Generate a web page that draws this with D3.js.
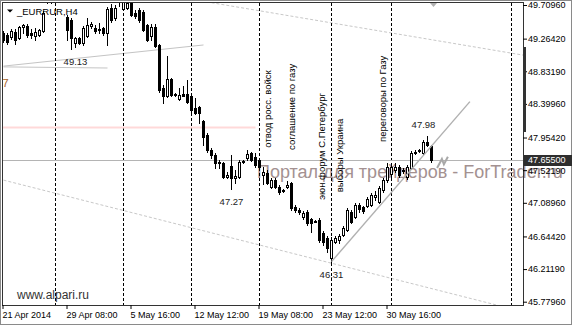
<!DOCTYPE html>
<html><head><meta charset="utf-8">
<script src="https://cdn.jsdelivr.net/npm/d3@7/dist/d3.min.js"></script>
<style>
html,body{margin:0;padding:0;background:#fff;}
svg{display:block;}
</style></head><body>
<script>
// ---- data (EURRUR, H4) ----
const opens  = [49.34,49.31,49.29,49.35,49.27,49.42,49.43,49.34,49.30,49.31,49.37,49.78,49.86,49.80,49.84,49.88,49.55,49.51,49.21,49.27,
49.21,49.30,49.43,49.41,49.39,49.41,49.34,49.67,49.54,49.75,49.66,49.67,49.74,49.60,49.64,49.62,49.45,49.30,49.42,49.18,
48.61,48.50,48.73,48.53,48.46,48.53,48.53,48.50,48.35,48.36,48.17,47.99,47.79,47.72,47.63,47.62,47.43,47.58,47.42,47.43,
47.63,47.68,47.75,47.70,47.66,47.46,47.48,47.30,47.39,47.30,47.26,47.30,47.35,47.03,46.99,46.90,46.97,46.88,46.85,46.86,
46.69,46.62,46.36,46.57,46.60,46.66,46.73,46.97,46.90,47.06,47.03,47.05,47.06,47.17,47.10,47.26,47.39,47.47,47.52,47.56,
47.52,47.43,47.55,47.75,47.78,47.75,47.90,47.84];
const highs  = [49.37,49.34,49.39,49.39,49.43,49.46,49.46,49.39,49.41,49.39,49.63,49.92,49.95,49.90,49.96,49.92,49.58,49.54,49.29,49.29,
49.43,49.54,49.49,49.45,49.47,49.42,49.68,49.72,49.71,49.88,49.80,49.75,49.75,49.64,49.67,49.64,49.46,49.46,49.46,49.19,
48.65,49.03,48.74,48.54,48.61,48.64,48.72,48.52,48.48,48.37,48.19,48.01,47.82,47.75,47.66,47.63,47.50,47.72,47.53,47.66,
47.66,47.79,47.76,47.75,47.68,47.56,47.52,47.42,47.42,47.33,47.27,47.38,47.37,47.06,47.02,46.98,46.99,46.89,46.86,46.89,
46.72,46.65,46.64,46.65,46.68,46.78,47.02,46.99,47.09,47.09,47.05,47.17,47.22,47.25,47.31,47.42,47.62,47.62,47.62,47.59,
47.55,47.59,47.78,47.79,47.80,47.92,47.98,47.86];
const lows   = [49.22,49.19,49.26,49.19,49.26,49.34,49.29,49.27,49.25,49.30,49.35,49.74,49.73,49.74,49.78,49.75,49.25,49.13,49.15,49.19,
49.18,49.29,49.41,49.34,49.34,49.31,49.18,49.49,49.51,49.70,49.64,49.66,49.56,49.54,49.49,49.37,49.23,49.25,49.15,48.56,
48.41,48.49,48.50,48.51,48.45,48.50,48.41,48.29,48.27,48.15,47.86,47.76,47.68,47.55,47.55,47.42,47.42,47.27,47.35,47.42,
47.62,47.66,47.64,47.56,47.52,47.34,47.34,47.29,47.29,47.21,47.23,47.29,46.99,46.97,46.94,46.88,46.80,46.70,46.84,46.57,
46.53,46.44,46.31,46.56,46.56,46.65,46.72,46.82,46.89,46.97,46.95,47.03,47.05,47.13,47.09,47.23,47.37,47.42,47.50,47.43,
47.48,47.40,47.54,47.74,47.76,47.74,47.84,47.63];
const closes = [49.25,49.22,49.37,49.25,49.42,49.45,49.31,49.31,49.35,49.38,49.60,49.86,49.80,49.84,49.88,49.77,49.38,49.27,49.27,49.21,
49.41,49.45,49.46,49.37,49.38,49.34,49.66,49.51,49.67,49.82,49.76,49.74,49.58,49.56,49.51,49.38,49.25,49.42,49.17,48.58,
48.50,48.73,48.52,48.52,48.52,48.51,48.43,48.32,48.28,48.28,47.96,47.79,47.72,47.62,47.62,47.43,47.46,47.42,47.44,47.63,
47.64,47.74,47.66,47.59,47.56,47.50,47.35,47.39,47.30,47.23,47.25,47.33,47.02,46.99,46.97,46.95,46.82,46.82,46.84,46.60,
46.57,46.49,46.60,46.62,46.65,46.76,46.99,46.84,47.06,47.01,46.98,47.14,47.19,47.19,47.29,47.39,47.56,47.56,47.56,47.46,
47.51,47.56,47.75,47.76,47.79,47.90,47.86,47.655];

const xTickBars   = [0,16,32,48,64,80,96];
const xTickLabels = ["21 Apr 2014","29 Apr 08:00","5 May 16:00","12 May 12:00","19 May 08:00","23 May 12:00","30 May 16:00"];
const yTickValues = [49.7096,49.2642,48.8319,48.3996,47.9542,47.5219,47.0896,46.6442,46.2119,45.7796];

const separatorBars = [13,30,47,64,82,97,127];
const eventTexts  = ["отвод росс. войск","соглашение по газу","эюн форум С.Петербург","выборы Украина","переговоры по Газу"];
const eventBars   = [66.9,72.75,80.4,84.9,95.6];
const eventPrices = [47.82,47.79,47.13,47.23,47.895];

const extremeBars   = [18,57,82,105];
const extremePrices = [49.13,47.27,46.31,47.98];
const extremeKinds  = ["low","low","low","high"];

const bidPrice   = 47.655;
const pinkLevel  = 48.09;
const pinkEndBar = 63;
const channelTop    = [[52,49.74],[130,49.045]];
const channelBottom = [[0,47.39],[130,45.645]];
const flatLine      = [[0,48.89],[26,48.875]];
const risingLine    = [[0,48.90],[50,49.18]];
const upTrend       = [[82,46.31],[116.6,48.43]];
const checkMark     = [[108.4,47.55],[109.6,47.67],[110.1,47.60],[111.1,47.70]];
const rangeBar      = [48.03,49.15];
const shiftMarkBar  = 107.5;

// ---- chart ----
const W = 572, H = 325;
const FONT = "'Liberation Sans', Arial, sans-serif";
const svg = d3.select("body").append("svg").attr("width", W).attr("height", H)
  .style("font-family", FONT);

const x = d3.scaleLinear().domain([-0.125, 129.875]).range([3, 523]);
const y = d3.scaleLinear().domain([45.7796, 49.7096]).range([301.7, 5]);
const px = i => Math.floor(x(i)) + 0.5;
const py = v => Math.round(y(v));

svg.append("rect").attr("width", W).attr("height", H).attr("fill", "#fff");

const defs = svg.append("defs");
defs.append("clipPath").attr("id", "clip").append("rect")
  .attr("x", 3).attr("y", 3).attr("width", 520).attr("height", 302);

// watermark
svg.append("text").attr("x", 257).attr("y", 178)
  .attr("font-size", 18).attr("fill", "#a39191")
  .text("Портал для трейдеров - ForTrader.ru");

const g = svg.append("g").attr("clip-path", "url(#clip)");
const line = d3.line().x(d => x(d[0])).y(d => y(d[1]));

// dashed channel rays
[channelTop, channelBottom].forEach(l => {
  g.append("path").attr("d", line(l)).attr("fill", "none")
    .attr("stroke", "#c8c8c8").attr("stroke-width", 1).attr("stroke-dasharray", "3,2");
});

// solid light lines
[flatLine, risingLine].forEach(l => {
  g.append("path").attr("d", line(l)).attr("fill", "none")
    .attr("stroke", "#c4c4c4").attr("stroke-width", 1);
});

// separators
g.selectAll(".sep").data(separatorBars).join("line")
  .attr("x1", d => Math.floor(x(d)) + 0.5).attr("x2", d => Math.floor(x(d)) + 0.5)
  .attr("y1", 3).attr("y2", 305)
  .attr("stroke", "#000").attr("stroke-width", 1).attr("stroke-dasharray", "3,2");

// pink level
g.append("line").attr("x1", 3).attr("x2", x(pinkEndBar))
  .attr("y1", py(pinkLevel) + 0.5).attr("y2", py(pinkLevel) + 0.5)
  .attr("stroke", "#ffd9d9").attr("stroke-width", 2);

// bid line
g.append("line").attr("x1", 3).attr("x2", 523)
  .attr("y1", py(bidPrice) + 0.5).attr("y2", py(bidPrice) + 0.5)
  .attr("stroke", "#b4b4b4").attr("stroke-width", 1);

// candles
const bars = d3.range(opens.length);
g.selectAll(".wick").data(bars).join("line")
  .attr("x1", px).attr("x2", px)
  .attr("y1", i => py(highs[i])).attr("y2", i => py(lows[i]) + 1)
  .attr("stroke", "#000").attr("stroke-width", 1);
bars.forEach(i => {
  const bull = closes[i] >= opens[i];
  const top = py(Math.max(opens[i], closes[i]));
  const bot = py(Math.min(opens[i], closes[i]));
  const cx = px(i);
  if (bot - top < 1) {
    g.append("line").attr("x1", cx - 1.5).attr("x2", cx + 1.5)
      .attr("y1", top + 0.5).attr("y2", top + 0.5).attr("stroke", "#000");
  } else {
    g.append("rect").attr("x", cx - 1).attr("y", top + 0.5)
      .attr("width", 2).attr("height", bot - top)
      .attr("fill", bull ? "#fff" : "#000").attr("stroke", "#000").attr("stroke-width", 1);
  }
});

// up trend line
g.append("path").attr("d", line(upTrend)).attr("fill", "none")
  .attr("stroke", "#b0b0b0").attr("stroke-width", 1.4);

// check mark
g.append("path").attr("d", line(checkMark)).attr("fill", "none")
  .attr("stroke", "#a8a8a8").attr("stroke-width", 2).attr("stroke-linejoin", "miter");

// extreme labels
extremeBars.forEach((b, i) => {
  const isLow = extremeKinds[i] === "low";
  svg.append("text").attr("x", x(b)).attr("y", y(extremePrices[i]) + (isLow ? 16 : -8))
    .attr("text-anchor", "middle").attr("font-size", 9.5).attr("fill", "#222")
    .text(extremePrices[i].toFixed(2));
});

// event labels (vertical)
eventTexts.forEach((t, i) => {
  svg.append("text")
    .attr("transform", `translate(${x(eventBars[i])},${y(eventPrices[i])}) rotate(-90)`)
    .attr("font-size", 9.5).attr("fill", "#000").text(t);
});

// frames
svg.append("rect").attr("x", 0.5).attr("y", 0.5).attr("width", W - 1).attr("height", H - 1)
  .attr("fill", "none").attr("stroke", "#8a8a8a");
svg.append("rect").attr("x", 2.5).attr("y", 2.5).attr("width", 521).attr("height", 303)
  .attr("fill", "none").attr("stroke", "#333");

// right axis
const yAxisG = svg.append("g").attr("transform", "translate(523,0)")
  .call(d3.axisRight(y).tickValues(yTickValues).tickFormat(d3.format(".5f")).tickSize(4).tickPadding(1));
yAxisG.select(".domain").remove();
yAxisG.attr("font-family", FONT).attr("font-size", 9).attr("color", "#000");

// range bar on axis
svg.append("rect").attr("x", 523).attr("y", py(rangeBar[1]))
  .attr("width", 3).attr("height", py(rangeBar[0]) - py(rangeBar[1])).attr("fill", "#333");

// bid price box
svg.append("rect").attr("x", 524).attr("y", py(bidPrice) - 5)
  .attr("width", 48).attr("height", 11).attr("fill", "#2e2e2e");
svg.append("text").attr("x", 528).attr("y", py(bidPrice) + 0.5).attr("dy", "0.32em")
  .attr("font-size", 9).attr("fill", "#fff").text(bidPrice.toFixed(5));

// bottom axis
const xAxisG = svg.append("g").attr("transform", "translate(-1,305)")
  .call(d3.axisBottom(x).tickValues(xTickBars).tickFormat((d, i) => xTickLabels[i])
    .tickSize(4).tickPadding(3).offset(0));
xAxisG.select(".domain").remove();
xAxisG.attr("font-family", FONT).attr("font-size", 9).attr("color", "#000");
xAxisG.selectAll("text").attr("text-anchor", "start").attr("x", 0);
xAxisG.selectAll(".tick line").attr("transform", "translate(0.5,0)");

// chart-shift marker
const sx = x(shiftMarkBar);
svg.append("path").attr("d", `M${sx - 3.5},3 L${sx + 3.5},3 L${sx},7 Z`).attr("fill", "#b0b0b0");

// symbol title
svg.append("path").attr("d", "M7,9.5 L13,9.5 L10,12.5 Z").attr("fill", "#000");
svg.append("text").attr("x", 17).attr("y", 14.5).attr("font-size", 9.5).attr("fill", "#000").text("_EURRUR,H4");

// cut-off label at left edge
svg.append("text").attr("x", 2.5).attr("y", 87).attr("font-size", 11).attr("fill", "#a8632a").text("7");

// site
svg.append("text").attr("x", 17).attr("y", 299).attr("font-size", 12).attr("fill", "#333").text("www.alpari.ru");
</script>
</body></html>
